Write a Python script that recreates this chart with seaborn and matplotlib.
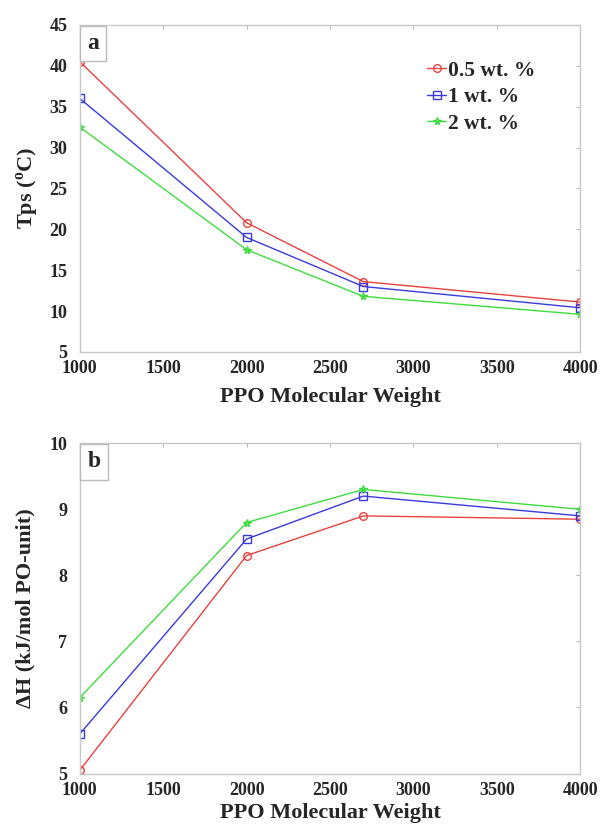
import matplotlib
matplotlib.use("Agg")
import matplotlib.pyplot as plt
import pandas as pd
import seaborn as sns

# ── data ─────────────────────────────────────────────────────────────────────
mw = [1000, 2000, 2700, 4000]
series = ["0.5 wt. %", "1 wt. %", "2 wt. %"]

tps_05 = [40.5, 20.8, 13.6, 11.1]
tps_1 = [36.0, 19.0, 13.0, 10.4]
tps_2 = [32.5, 17.5, 11.8, 9.6]

dh_05 = [5.05, 8.3, 8.9, 8.85]
dh_1 = [5.6, 8.55, 9.2, 8.9]
dh_2 = [6.15, 8.8, 9.3, 9.0]

colors = {"0.5 wt. %": "#e8423f", "1 wt. %": "#3a3ae0", "2 wt. %": "#3fdc3f"}
markers = {"0.5 wt. %": "o", "1 wt. %": "s", "2 wt. %": "*"}


def long_df(vals):
    rows = []
    for name, ys in zip(series, vals):
        for x, y in zip(mw, ys):
            rows.append({"mw": x, "val": y, "conc": name})
    return pd.DataFrame(rows)


df_a = long_df([tps_05, tps_1, tps_2])
df_b = long_df([dh_05, dh_1, dh_2])

sns.set_style("white")
plt.rcParams["font.family"] = ["Liberation Serif", "DejaVu Serif"]
plt.rcParams["font.weight"] = "bold"
plt.rcParams["mathtext.fontset"] = "custom"
plt.rcParams["mathtext.bf"] = "Liberation Serif:bold"

fig = plt.figure(figsize=(6, 8.3), dpi=100)
ax1 = fig.add_axes([0.133, 0.576, 0.834, 0.394])
ax2 = fig.add_axes([0.133, 0.068, 0.834, 0.398])


def style_ax(ax, ylim, yticks, letter, lpad):
    ax.set_xlim(1000, 4000)
    ax.set_ylim(*ylim)
    ax.set_xticks(range(1000, 4001, 500))
    ax.set_yticks(yticks)
    ax.tick_params(direction="in", length=3, color="#bbbbbb", top=True, right=True,
                   labelsize=13)
    ax.tick_params(axis="x", pad=6)
    ax.tick_params(axis="y", pad=9)
    for lab in ax.get_xticklabels() + ax.get_yticklabels():
        lab.set_fontweight("bold")
    for sp in ax.spines.values():
        sp.set_color("#c8c8c8")
        sp.set_linewidth(1.0)
    ax.set_xlabel("PPO Molecular Weight", fontsize=16, fontweight="bold", labelpad=lpad)
    ax.text(0.015, 0.975, letter, transform=ax.transAxes, fontsize=17,
            fontweight="bold", va="top", ha="left",
            bbox=dict(boxstyle="square,pad=0.3", fc="white", ec="#bbbbbb", lw=1))


for ax, df in [(ax1, df_a), (ax2, df_b)]:
    sns.lineplot(data=df, x="mw", y="val", hue="conc", style="conc",
                 palette=colors, markers=markers, dashes=False, linewidth=1.0,
                 markersize=5.5, ax=ax, legend=(ax is ax1))
    for ln in ax.lines:
        ln.set_markeredgecolor(ln.get_color())
        ln.set_markerfacecolor("none")
        ln.set_markeredgewidth(1.0)

style_ax(ax1, (5, 45), range(5, 46, 5), "a", 7)
style_ax(ax2, (5, 10), range(5, 11, 1), "b", 3)
ax1.set_ylabel("Tps ($^{\\mathbf{o}}$C)", fontsize=16, fontweight="bold", labelpad=6)
ax2.set_ylabel("ΔH (kJ/mol PO-unit)", fontsize=16, fontweight="bold", labelpad=10)

leg = ax1.legend(loc="upper right", frameon=False, fontsize=15.5, handlelength=0.9,
                 handletextpad=0.1, labelspacing=0.3, bbox_to_anchor=(0.95, 0.95))
for t in leg.get_texts():
    t.set_fontweight("bold")
for h in leg.legend_handles:
    h.set_markeredgecolor(h.get_color())
    h.set_markerfacecolor("none")

fig.savefig("out.png", dpi=100)
